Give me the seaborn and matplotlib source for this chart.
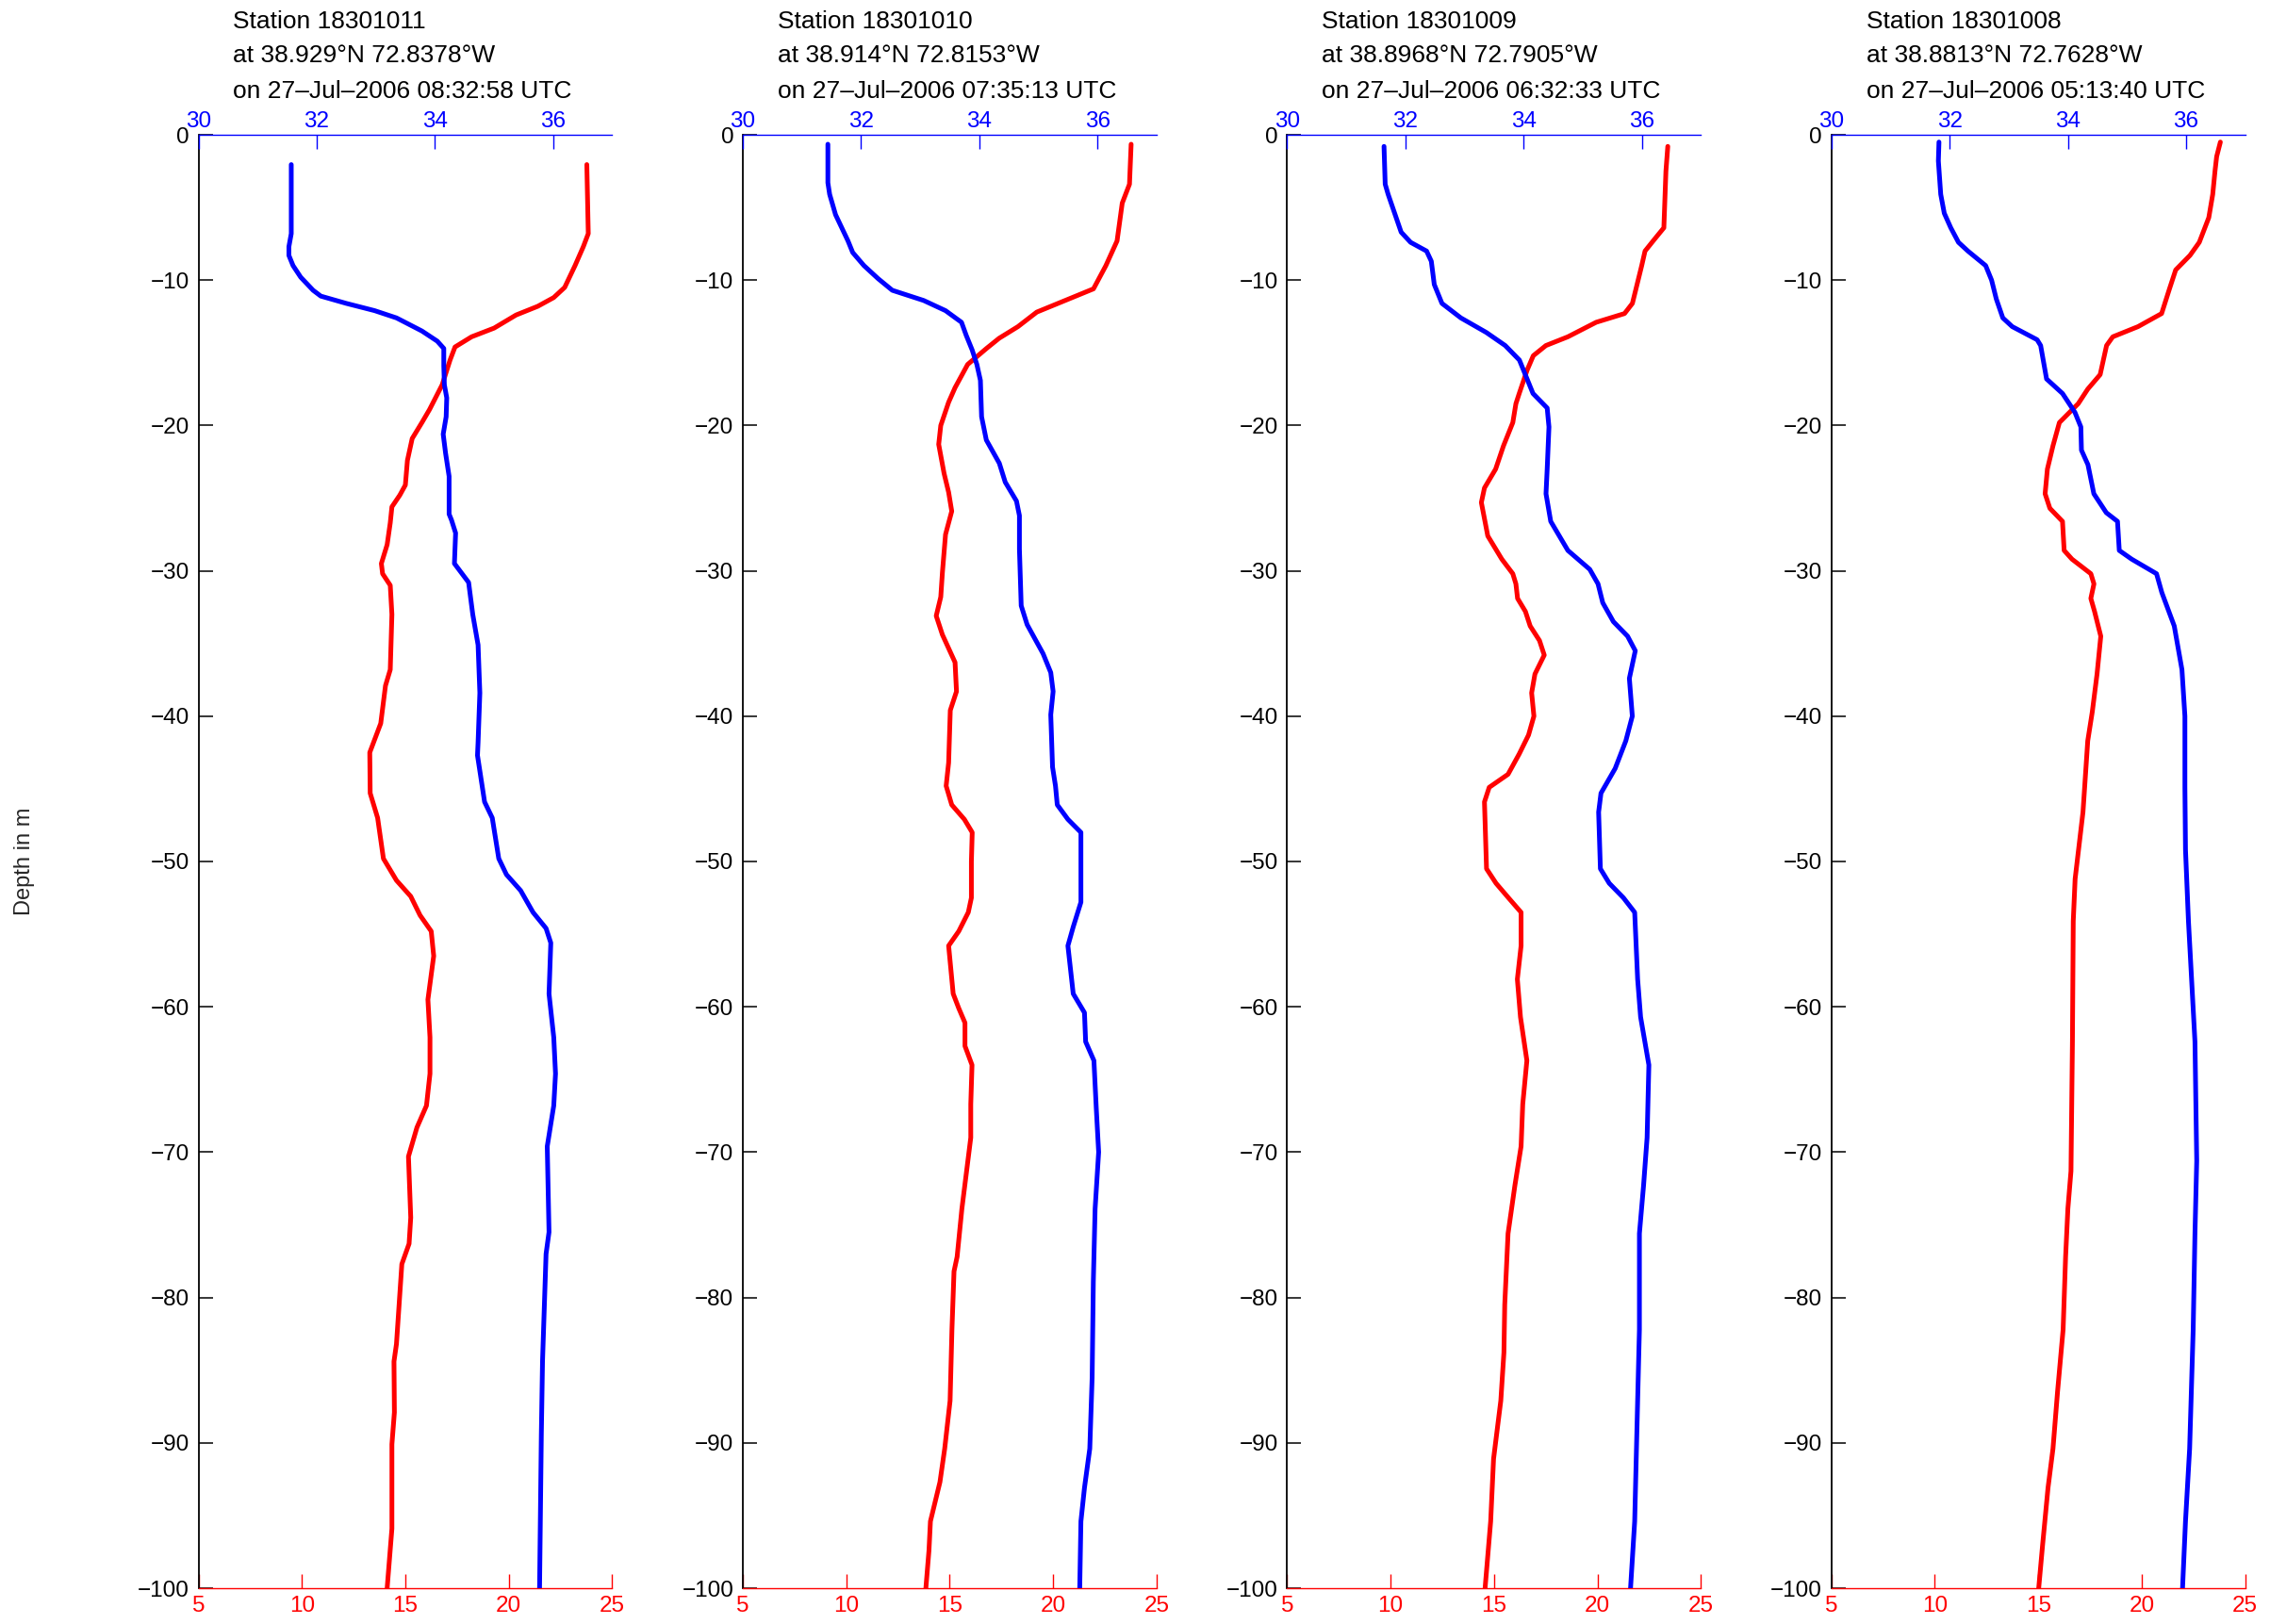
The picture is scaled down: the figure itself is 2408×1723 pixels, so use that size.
import matplotlib
matplotlib.use("Agg")
import matplotlib.pyplot as plt
import matplotlib.transforms as mtransforms
import seaborn as sns

# station header info
stations = ["18301011", "18301010", "18301009", "18301008"]
positions = ["38.929°N 72.8378°W", "38.914°N 72.8153°W",
             "38.8968°N 72.7905°W", "38.8813°N 72.7628°W"]
times = ["27\u2013Jul\u20132006 08:32:58 UTC", "27\u2013Jul\u20132006 07:35:13 UTC",
         "27\u2013Jul\u20132006 06:32:33 UTC", "27\u2013Jul\u20132006 05:13:40 UTC"]

# station 18301011
depth_t_1011 = [-2.05, -6.8, -7.7, -9.0, -10.5, -11.2, -11.8, -12.4, -13.3, -13.9, -14.6, -15.5,
                -17.2, -18.9, -19.8, -20.9, -22.4, -24.1, -24.8, -25.6, -26.7, -28.2, -29.5, -30.2,
                -31, -33, -36.8, -37.9, -40.5, -42.5, -45.3, -47, -49.8, -51.3, -52.4, -53.7, -54.8,
                -56.5, -59.5, -62.1, -64.6, -66.8, -68.3, -70.3, -74.5, -76.3, -77.7, -83.2, -84.4,
                -87.9, -90.1, -95.9, -100]
temp_1011 = [23.77, 23.84, 23.6, 23.2, 22.7, 22.17, 21.4, 20.35, 19.29, 18.2, 17.4, 17.16,
             16.78, 16.17, 15.8, 15.33, 15.1, 15.0, 14.73, 14.35, 14.27, 14.12, 13.84, 13.9,
             14.27, 14.35, 14.27, 14.04, 13.81, 13.28, 13.3, 13.66, 13.94, 14.57, 15.26, 15.71, 16.25,
             16.37, 16.09, 16.19, 16.19, 16.02, 15.56, 15.15, 15.26, 15.18, 14.83, 14.57, 14.45,
             14.47, 14.35, 14.35, 14.12]
depth_s_1011 = [-2.05, -6.8, -7.7, -8.3, -9.0, -9.8, -10.7, -11.1, -11.6, -12.1, -12.6, -13.5,
                -14.2, -14.7, -15.9, -17.2, -18.1, -19.4, -20.6, -21.9, -23.5, -26.1, -26.5, -27.4,
                -29.5, -30.8, -33, -35.1, -38.4, -41.8, -42.7, -45.9, -47, -49.8, -50.9, -52, -53.5,
                -54.6, -55.6, -59.1, -62.1, -64.6, -66.8, -69.6, -75.5, -77, -84.4, -89.4, -100]
sal_1011 = [31.57, 31.57, 31.53, 31.53, 31.6, 31.73, 31.94, 32.07, 32.5, 32.98, 33.35, 33.78,
            34.04, 34.15, 34.15, 34.16, 34.2, 34.19, 34.14, 34.18, 34.24, 34.24, 34.28, 34.35,
            34.33, 34.57, 34.64, 34.73, 34.76, 34.73, 34.72, 34.84, 34.97, 35.08, 35.21, 35.45, 35.66,
            35.88, 35.96, 35.93, 36.01, 36.04, 36.01, 35.9, 35.93, 35.88, 35.82, 35.8, 35.77]

# station 18301010
depth_t_1010 = [-0.65, -3.4, -4.7, -7.3, -9, -10.6, -11.4, -12.2, -13.2, -14, -14.7, -15.8,
                -17.4, -18.4, -20, -21.3, -23.3, -24.6, -25.9, -27.5, -30.1, -31.8, -33.1, -34.4,
                -36.3, -38.3, -39.6, -43.2, -44.8, -46.1, -47.1, -48, -50, -52.5, -53.5, -54.8,
                -55.8, -59.1, -60.1, -61.1, -62.7, -64, -66.7, -69, -73.9, -77.2, -78.2, -82.2,
                -87.1, -90.4, -92.7, -95.4, -97.4, -100]
temp_1010 = [23.77, 23.69, 23.34, 23.09, 22.55, 21.95, 20.58, 19.21, 18.3, 17.39, 16.78, 15.87,
             15.26, 14.95, 14.57, 14.47, 14.73, 14.95, 15.1, 14.8, 14.65, 14.57, 14.35, 14.65,
             15.26, 15.33, 15.03, 14.95, 14.83, 15.1, 15.71, 16.09, 16.05, 16.05, 15.9, 15.44,
             14.95, 15.17, 15.44, 15.74, 15.74, 16.08, 16.02, 16.02, 15.59, 15.36, 15.21, 15.11,
             15.02, 14.76, 14.53, 14.07, 14.0, 13.85]
depth_s_1010 = [-0.65, -3.3, -4.1, -5.5, -7.3, -8.1, -9, -9.9, -10.7, -11.4, -12.1, -12.9,
                -13.8, -14.8, -15.8, -16.9, -19.4, -21, -22.6, -23.9, -25.2, -26.2, -28.5, -32.4,
                -33.7, -35.7, -37, -38.3, -39.9, -43.5, -44.8, -46.1, -47.1, -48, -52.8, -54.5,
                -55.8, -59.1, -60.4, -62.4, -63.7, -67, -70, -73.9, -78.9, -85.5, -90.4, -93.1,
                -95.4, -100]
sal_1010 = [31.44, 31.44, 31.47, 31.57, 31.78, 31.86, 32.05, 32.29, 32.53, 33.06, 33.43, 33.7,
            33.78, 33.88, 33.96, 34.02, 34.04, 34.12, 34.34, 34.44, 34.63, 34.68, 34.68, 34.71,
            34.81, 35.08, 35.21, 35.25, 35.21, 35.24, 35.29, 35.32, 35.5, 35.72, 35.72, 35.59,
            35.5, 35.59, 35.78, 35.8, 35.94, 35.98, 36.02, 35.96, 35.93, 35.91, 35.87, 35.78,
            35.72, 35.7]

# station 18301009
depth_t_1009 = [-0.8, -2.5, -6.4, -7.2, -8, -9, -11.6, -12.3, -12.9, -13.9, -14.5, -15.2,
                -16.2, -17.8, -18.5, -19.8, -21.4, -23, -24.3, -25.3, -27.6, -29.2, -30.2, -30.9,
                -31.9, -32.8, -33.8, -34.8, -35.8, -37.1, -38.4, -40, -41.3, -42.6, -44, -44.9,
                -45.9, -50.5, -51.5, -52.5, -53.5, -55.8, -58.1, -60.7, -63.7, -66.7, -69.6, -72.3,
                -75.6, -80.5, -83.8, -87.1, -91.1, -95.4, -100]
temp_1009 = [23.4, 23.31, 23.21, 22.75, 22.3, 22.14, 21.69, 21.31, 19.94, 18.57, 17.51, 16.9,
             16.6, 16.22, 16.06, 15.91, 15.46, 15.08, 14.54, 14.39, 14.7, 15.38, 15.91, 16.06,
             16.14, 16.52, 16.75, 17.2, 17.43, 16.98, 16.82, 16.93, 16.67, 16.22, 15.68, 14.77,
             14.54, 14.64, 15.1, 15.7, 16.31, 16.31, 16.13, 16.28, 16.59, 16.39, 16.31, 16.01,
             15.68, 15.52, 15.48, 15.33, 14.98, 14.84, 14.57]
depth_s_1009 = [-0.8, -3.4, -4.1, -5.4, -6.7, -7.4, -8, -8.7, -10.3, -11.6, -12.6, -13.6,
                -14.5, -15.5, -16.8, -17.8, -18.8, -20.1, -23, -24.7, -26.6, -28.6, -29.9, -30.9,
                -32.2, -33.5, -34.5, -35.5, -37.4, -40, -41.7, -43.6, -45.3, -46.6, -50.5, -51.5,
                -52.5, -53.5, -58.1, -60.7, -64, -69, -72.3, -75.6, -82.2, -87.1, -95.4, -100]
sal_1009 = [31.64, 31.66, 31.71, 31.82, 31.93, 32.09, 32.36, 32.44, 32.49, 32.62, 32.94, 33.37,
            33.69, 33.93, 34.06, 34.16, 34.4, 34.43, 34.4, 34.38, 34.46, 34.75, 35.12, 35.26,
            35.34, 35.52, 35.76, 35.89, 35.79, 35.84, 35.73, 35.55, 35.31, 35.27, 35.3, 35.45,
            35.69, 35.88, 35.93, 35.98, 36.12, 36.09, 36.03, 35.96, 35.96, 35.93, 35.88, 35.81]

# station 18301008
depth_t_1008 = [-0.5, -1.5, -2.5, -4.1, -5.7, -7.4, -8.3, -9.3, -10.6, -12.3, -13.2, -13.9,
                -14.5, -16.5, -17.5, -18.5, -19.8, -21.4, -23, -24.7, -25.7, -26.6, -28.6, -29.2,
                -30.2, -30.9, -31.9, -32.8, -34.5, -37.1, -39.7, -41.7, -46.6, -51.2, -54.1, -62.4,
                -71.3, -73.9, -77.2, -82.2, -86.5, -90.4, -93.1, -97, -100]
temp_1008 = [23.8, 23.62, 23.54, 23.43, 23.24, 22.78, 22.33, 21.64, 21.34, 20.96, 19.82, 18.6,
             18.3, 17.99, 17.39, 16.93, 16.02, 15.71, 15.44, 15.33, 15.56, 16.17, 16.25, 16.63,
             17.54, 17.69, 17.54, 17.72, 18.02, 17.84, 17.61, 17.39, 17.16, 16.78, 16.69, 16.65,
             16.58, 16.43, 16.32, 16.2, 15.93, 15.71, 15.47, 15.21, 15.02]
depth_s_1008 = [-0.5, -1.8, -4.1, -5.4, -6.4, -7.4, -8, -9, -10, -11.3, -12.6, -13.2,
                -14.1, -14.5, -16.8, -17.8, -19.1, -20.1, -21.7, -22.7, -24.7, -26, -26.6, -28.6,
                -29.2, -30.2, -31.5, -33.8, -36.8, -40, -44.9, -49.2, -54.1, -62.4, -70.6, -75.6,
                -82.2, -90.4, -95.4, -100]
sal_1008 = [31.82, 31.81, 31.85, 31.91, 32.02, 32.15, 32.31, 32.61, 32.71, 32.79, 32.9, 33.06,
            33.48, 33.54, 33.64, 33.91, 34.12, 34.22, 34.23, 34.34, 34.44, 34.65, 34.84, 34.87,
            35.08, 35.5, 35.59, 35.8, 35.93, 35.98, 35.98, 35.99, 36.04, 36.15, 36.18, 36.15,
            36.12, 36.06, 35.99, 35.94]

temp_profiles = [(depth_t_1011, temp_1011), (depth_t_1010, temp_1010),
                 (depth_t_1009, temp_1009), (depth_t_1008, temp_1008)]
sal_profiles = [(depth_s_1011, sal_1011), (depth_s_1010, sal_1010),
                (depth_s_1009, sal_1009), (depth_s_1008, sal_1008)]

sns.set_theme(style="white")
plt.rcParams["font.family"] = ["Liberation Sans", "DejaVu Sans"]

fig = plt.figure(figsize=(24.08, 17.23), dpi=100)

left0 = 210.5 / 2408
step = 577.4 / 2408
width = 439 / 2408
bottom = 38 / 1723
height = 1542 / 1723
fs = 17.5
title_fs = 19

for i in range(4):
    ax = fig.add_axes([left0 + i * step, bottom, width, height])
    ax2 = ax.twiny()

    dt, tv = temp_profiles[i]
    ds, sv = sal_profiles[i]
    sns.lineplot(x=tv, y=dt, sort=False, estimator=None, color="red", lw=3.6,
                 solid_capstyle="round", solid_joinstyle="round", ax=ax)
    sns.lineplot(x=sv, y=ds, sort=False, estimator=None, color="blue", lw=3.6,
                 solid_capstyle="round", solid_joinstyle="round", ax=ax2)

    ax.set_xlim(5, 25)
    ax2.set_xlim(30, 37)
    ax.set_ylim(-100, 0)
    ax.set_xticks([5, 10, 15, 20, 25])
    ax2.set_xticks([30, 32, 34, 36])
    ax.set_yticks(list(range(-100, 1, 10)))
    ax.set_xlabel("")
    ax.set_ylabel("")
    ax2.set_xlabel("")
    ax2.set_ylabel("")

    for s in ["top", "right"]:
        ax.spines[s].set_visible(False)
    ax.spines["left"].set_color("black")
    ax.spines["left"].set_linewidth(1.3)
    ax.spines["bottom"].set_color("red")
    ax.spines["bottom"].set_linewidth(1.0)
    for s in ["left", "right", "bottom"]:
        ax2.spines[s].set_visible(False)
    ax2.spines["top"].set_color("blue")
    ax2.spines["top"].set_linewidth(1.0)

    ax.tick_params(axis="y", direction="in", length=11, width=1.1, color="black",
                   labelcolor="black", labelsize=fs, pad=7, left=True)
    ax.tick_params(axis="x", direction="in", length=11, width=1.0, color="red",
                   labelcolor="red", labelsize=fs, pad=6, bottom=True)
    ax2.tick_params(axis="x", direction="in", length=11, width=1.0, color="blue",
                    labelcolor="blue", labelsize=fs, pad=2, top=True)

    trans = mtransforms.blended_transform_factory(ax.transAxes, fig.transFigure)
    header = ["Station " + stations[i], "at " + positions[i], "on " + times[i]]
    for line, ypix in zip(header, [23, 59, 97]):
        ax.text(0.084, 1 - ypix / 1723, line, transform=trans, ha="left", va="center",
                fontsize=title_fs, color="black")

fig.text(0.011, bottom + height / 2, "Depth in m", rotation=90, ha="center", va="center",
         fontsize=17)

fig.savefig("out.png", dpi=100)
